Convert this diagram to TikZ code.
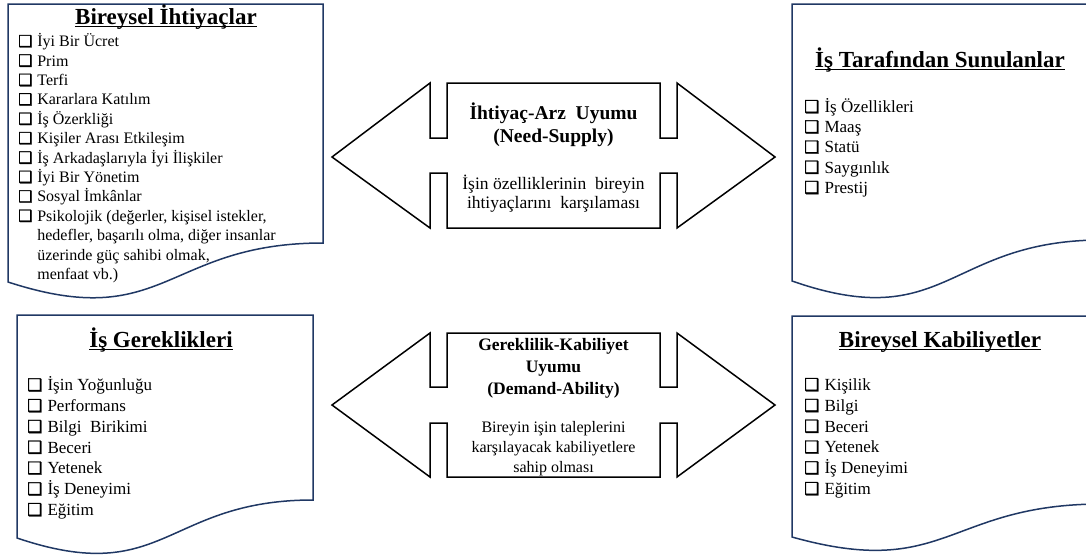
\documentclass[tikz,border=0pt]{standalone}
\usepackage{fontspec}
\setmainfont{Liberation Serif}
\newfontfamily\cbfont[Scale=1.0,FakeBold=1.6]{DejaVu Sans}
\definecolor{docblue}{RGB}{32,56,100}

% check-box bullet used in front of every list item
\newcommand\boxmark{{\cbfont ❑}\hspace{0.3em}}
\newcommand\hangmark{\hphantom{\boxmark}}

% wavy-bottom document shape: x0, x1, top, right-bottom y, left-bottom y
\newcommand\docshape[5]{%
  \draw[docline] (#1,#3) -- (#2,#3) -- (#2,#4)
    .. controls ({(#1+#2)/2},#4) and ({(#1+#2)/2},{#4+2.316*(#5-#4)}) .. (#1,#5) -- cycle;}

% double-headed block arrow with notched body:
% tip y, head top y, shaft top y, shaft bottom y, head bottom y
\newcommand\fitarrow[5]{%
  \draw[arrowline] (332,#1) -- (430,#2) -- (430,#3) -- (447,#3) -- (447,#2)
    -- (660,#2) -- (660,#3) -- (677,#3) -- (677,#2) -- (775,#1)
    -- (677,#5) -- (677,#4) -- (660,#4) -- (660,#5) -- (447,#5)
    -- (447,#4) -- (430,#4) -- (430,#5) -- cycle;}

% multi-line nodes below are placed by the baseline of their last line
\tikzset{
  docline/.style={draw=docblue, line width=1.5pt, fill=white},
  arrowline/.style={draw=black, line width=1.5pt, fill=white},
  doctitle/.style={inner sep=0pt, anchor=base, font=\bfseries\fontsize{23}{27}\selectfont},
  uline/.style={line width=1.2pt, black},
  listA/.style={inner sep=0pt, anchor=base west, align=left, font=\fontsize{16}{19.4}\selectfont},
  listB/.style={inner sep=0pt, anchor=base west, align=left, font=\fontsize{17}{20.2}\selectfont},
  listC/.style={inner sep=0pt, anchor=base west, align=left, font=\fontsize{17}{20.8}\selectfont},
  fitA/.style={inner sep=0pt, anchor=base, align=center, font=\bfseries\fontsize{19.5}{23.4}\selectfont},
  descA/.style={inner sep=0pt, anchor=base, align=center, font=\fontsize{17.5}{19.3}\selectfont},
  fitB/.style={inner sep=0pt, anchor=base, align=center, font=\bfseries\fontsize{17.5}{21.7}\selectfont},
  descB/.style={inner sep=0pt, anchor=base, align=center, font=\fontsize{16}{19.9}\selectfont},
}

\begin{document}
\begin{tikzpicture}[x=1pt, y=-1pt]
\useasboundingbox (0,0) rectangle (1086,555);
\clip (0,0) rectangle (1086,555);

% the four document shapes
\docshape{8}{323}{4}{243}{282}
\docshape{792}{1102}{4}{240}{281}
\docshape{17}{313}{315}{500}{538}
\docshape{792}{1102}{316}{504}{537}

% the two fit arrows
\fitarrow{157}{83}{138}{173}{228}
\fitarrow{405}{333}{387}{423}{477}

% individual needs
\node[doctitle] (needsTitle) at (166,24) {Bireysel İhtiyaçlar};
\draw[uline] ([yshift=-2.5pt]needsTitle.base west) -- ([yshift=-2.5pt]needsTitle.base east);
\node[listA] (needsList) at (18,279.5) {%
\boxmark İyi Bir Ücret\\
\boxmark Prim\\
\boxmark Terfi\\
\boxmark Kararlara Katılım\\
\boxmark İş Özerkliği\\
\boxmark Kişiler Arası Etkileşim\\
\boxmark İş Arkadaşlarıyla İyi İlişkiler\\
\boxmark İyi Bir Yönetim\\
\boxmark Sosyal İmkânlar\\
\boxmark Psikolojik (değerler, kişisel istekler,\\
\hangmark hedefler, başarılı olma, diğer insanlar\\
\hangmark üzerinde güç sahibi olmak,\\
\hangmark menfaat vb.)};

% supplies of the job
\node[doctitle] (suppTitle) at (940,67) {İş Tarafından Sunulanlar};
\draw[uline] ([yshift=-2.5pt]suppTitle.base west) -- ([yshift=-2.5pt]suppTitle.base east);
\node[listB] (suppList) at (804,193.3) {%
\boxmark İş Özellikleri\\
\boxmark Maaş\\
\boxmark Statü\\
\boxmark Saygınlık\\
\boxmark Prestij};

% job demands
\node[doctitle] (demTitle) at (161,347) {İş Gereklikleri};
\draw[uline] ([yshift=-2.5pt]demTitle.base west) -- ([yshift=-2.5pt]demTitle.base east);
\node[listC] (demList) at (27,515.5) {%
\boxmark İşin Yoğunluğu\\
\boxmark Performans\\
\boxmark Bilgi\ \ Birikimi\\
\boxmark Beceri\\
\boxmark Yetenek\\
\boxmark İş Deneyimi\\
\boxmark Eğitim};

% individual abilities
\node[doctitle] (abilTitle) at (940,347) {Bireysel Kabiliyetler};
\draw[uline] ([yshift=-2.5pt]abilTitle.base west) -- ([yshift=-2.5pt]abilTitle.base east);
\node[listC] (abilList) at (804,494.5) {%
\boxmark Kişilik\\
\boxmark Bilgi\\
\boxmark Beceri\\
\boxmark Yetenek\\
\boxmark İş Deneyimi\\
\boxmark Eğitim};

% arrow labels
\node[fitA] (nsTitle) at (553.5,142.7) {İhtiyaç-Arz\ \ Uyumu\\(Need-Supply)};
\node[descA] (nsText) at (553.5,208.3) {İşin özelliklerinin\ \ bireyin\\ihtiyaçlarını\ \ karşılaması};
\node[fitB] (daTitle) at (553.5,394) {Gereklilik-Kabiliyet\\Uyumu\\(Demand-Ability)};
\node[descB] (daText) at (553.5,472.7) {Bireyin işin taleplerini\\karşılayacak kabiliyetlere\\sahip olması};
\end{tikzpicture}
\end{document}
